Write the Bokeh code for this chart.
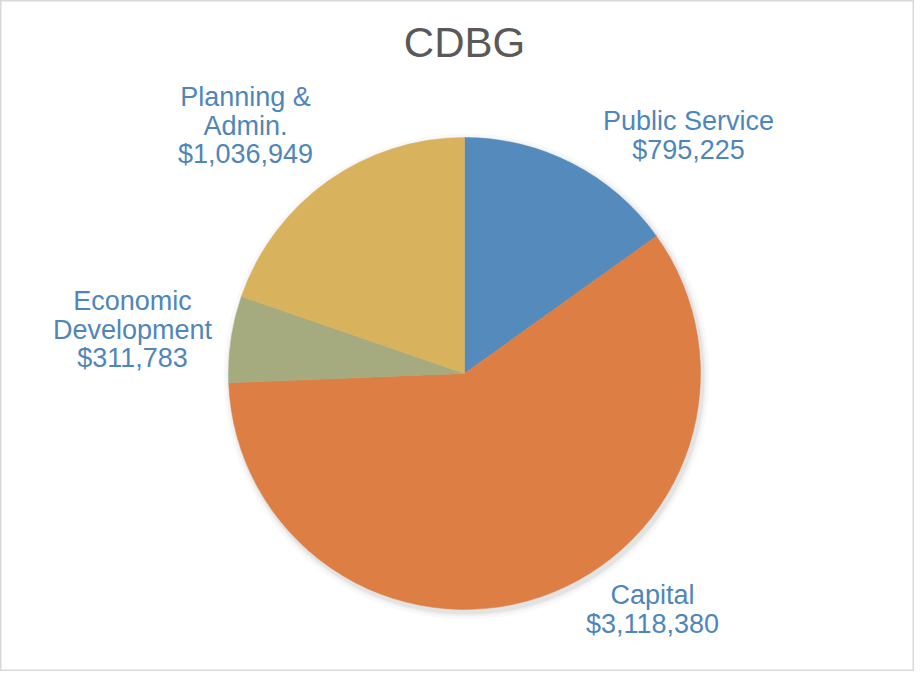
import math
from bokeh.plotting import figure
from bokeh.models import ColumnDataSource, Range1d, Label
from bokeh.core.properties import value
from bokeh.embed import file_html
from bokeh.resources import INLINE

# ---- data ----
categories = ["Public Service", "Capital", "Economic Development", "Planning & Admin."]
amounts = [795225, 3118380, 311783, 1036949]
label_texts = ["Public Service\n$795,225", "Capital\n$3,118,380",
               "Economic\nDevelopment\n$311,783", "Planning &\nAdmin.\n$1,036,949"]
title_text = "CDBG"

# ---- styles / layout ----
colors = ["#558bbc", "#dd7f45", "#a5ab7f", "#d8b25d"]
label_color = "#4f86b9"
W, H = 914, 671
cx, cy, R = 464, 298, 236
# label anchor positions (layout, in pixels of the figure)
label_pos = [(688, 536), (652, 62), (132, 342), (245, 546)]

total = float(sum(amounts))
starts, ends = [], []
cum = 0.0
for a in amounts:
    s = math.pi / 2 - 2 * math.pi * cum / total
    cum += a
    e = math.pi / 2 - 2 * math.pi * cum / total
    starts.append(s)
    ends.append(e)

src = ColumnDataSource(dict(cat=categories, val=amounts, start=starts, end=ends,
                            color=colors, x=[cx] * 4, y=[cy] * 4))

p = figure(width=W, height=H, output_backend="svg", toolbar_location=None,
           x_range=Range1d(0, W), y_range=Range1d(0, H), min_border=0)
p.axis.visible = False
p.grid.visible = False
p.outline_line_color = "#d9d9d9"
p.outline_line_width = 2
p.background_fill_color = "white"
p.border_fill_color = "white"

# soft shadow
for k, al in [(7, 0.025), (4, 0.035), (2, 0.05)]:
    p.circle(x=[cx + 2], y=[cy - 3], radius=R + k, fill_color="black",
             fill_alpha=al, line_color=None)

p.wedge(x="x", y="y", radius=R, start_angle="start", end_angle="end",
        direction="clock", fill_color="color", line_color="color",
        line_width=0.5, source=src)

lsrc = ColumnDataSource(dict(x=[q[0] for q in label_pos], y=[q[1] for q in label_pos],
                             t=label_texts))
p.text(x="x", y="y", text="t", source=lsrc, text_align="center",
       text_baseline="middle", text_font=value("Liberation Sans"),
       text_font_size="27px", text_color=label_color, text_line_height=0.95)

p.add_layout(Label(x=cx, y=629, text=title_text, text_align="center",
                   text_baseline="middle", text_font="Liberation Sans",
                   text_font_size="42px", text_color="#595959"))

open("out.html", "w").write(file_html(p, INLINE))
